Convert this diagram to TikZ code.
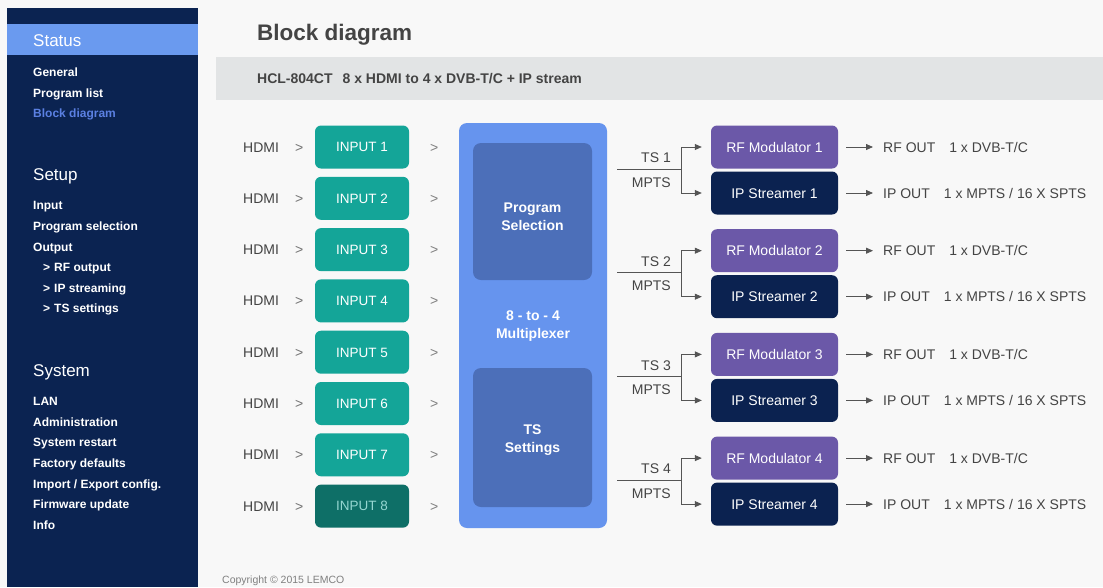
\documentclass[tikz,border=0pt]{standalone}
\usepackage{fontspec}
\setmainfont{Liberation Sans}
\usetikzlibrary{arrows.meta}

\definecolor{pagebg}{HTML}{F8F8F8}
\definecolor{navy}{HTML}{0B2351}
\definecolor{statusblue}{HTML}{6A9AEF}
\definecolor{linkblue}{HTML}{5B80E2}
\definecolor{bandgray}{HTML}{E2E4E5}
\definecolor{textgray}{HTML}{444444}
\definecolor{teal}{HTML}{14A598}
\definecolor{tealdark}{HTML}{0E6F67}
\definecolor{muxblue}{HTML}{6694EE}
\definecolor{innerblue}{HTML}{4C6FB9}
\definecolor{rfpurple}{HTML}{6B58A8}
\definecolor{ipnavy}{HTML}{0B2250}
\definecolor{wiregray}{HTML}{555555}

\tikzset{
  heading/.style={anchor=west, inner sep=0pt, text=white, text height=.72em, text depth=0pt,
    node font=\fontsize{17}{19}\selectfont},
  menu/.style={anchor=west, inner sep=0pt, text=white, text height=.72em, text depth=0pt,
    node font=\bfseries\fontsize{12}{14}\selectfont},
  plain/.style={anchor=west, inner sep=0pt, text=textgray, text height=.72em, text depth=0pt,
    node font=\fontsize{14}{16}\selectfont},
  inbox/.style={fill=teal, rounded corners=6pt, minimum width=94pt, minimum height=43pt,
    text=white, text height=.72em, text depth=0pt, node font=\fontsize{13.5}{15}\selectfont},
  inboxoff/.style={inbox, fill=tealdark, text=teal!45!white},
  outbox/.style={rounded corners=6pt, minimum width=127pt, minimum height=43pt,
    text=white, text height=.72em, text depth=0pt, node font=\fontsize{14}{16}\selectfont},
  muxpart/.style={fill=innerblue, rounded corners=8pt, minimum width=119pt},
  muxtext/.style={align=center, text=white, node font=\bfseries\fontsize{14}{18}\selectfont},
  wire/.style={draw=wiregray, line width=0.8pt},
  arrow/.style={wire, -{Triangle[length=7pt,width=6pt]}},
}

\begin{document}
\begin{tikzpicture}[x=1pt,y=-1pt]
    % page and side bar
    \fill[pagebg] (0,0) rectangle (1103,587);
    \fill[navy] (7,8) rectangle (198,587);
    \fill[statusblue] (7,24) rectangle (198,55);

    \node[heading] (status) at (33,40) {Status};
    \node[heading] (setup) at (33,174) {Setup};
    \node[heading] (system) at (33,370) {System};

    \foreach \y/\t in {72/General, 93/Program list, 205/Input, 226/Program selection,
        247/Output, 401/LAN, 422/Administration, 442/System restart,
        463/Factory defaults, 484/{Import / Export config.}, 504/Firmware update, 525/Info}
        \node[menu] (menu\y) at (33,\y) {\t};
    \node[menu, text=linkblue] (menu113) at (33,113) {Block diagram};
    \foreach \y/\t in {267/RF output, 288/IP streaming, 308/TS settings}
        \node[menu] (menu\y) at (43,\y) {>\hspace{4pt}\t};

    % title and product band
    \node[plain, node font=\bfseries\fontsize{22.5}{26}\selectfont] (title) at (257,32) {Block diagram};
    \fill[bandgray] (216,57) rectangle (1103,100);
    \node[plain, node font=\bfseries\fontsize{14}{16}\selectfont] (product) at (257,78)
        {HCL-804CT\hspace{10pt}8 x HDMI to 4 x DVB-T/C + IP stream};

    % inputs
    \foreach \i/\s in {1/inbox,2/inbox,3/inbox,4/inbox,5/inbox,6/inbox,7/inbox,8/inboxoff} {
        \pgfmathsetmacro{\y}{147+51.3*(\i-1)}
        \node[plain] (hdmi\i) at (243,\y) {HDMI};
        \node[plain, text=gray!90!black] (gt\i) at (295,\y) {>};
        \node[\s] (in\i) at (362,\y) {INPUT \i};
        \node[plain, text=gray] (to\i) at (430,\y) {>};
    }

    % multiplexer
    \node[fill=muxblue, rounded corners=8pt, minimum width=148pt, minimum height=405pt] (mux) at (533,325.5) {};
    \node[muxpart, minimum height=137pt] (progsel) at (532.5,211.5) {};
    \node[muxpart, minimum height=139pt] (tsset) at (532.5,437.5) {};
    \node[muxtext] (progsellabel) at (532.5,216.5) {Program\\Selection};
    \node[muxtext] (tssetlabel) at (532.5,440.5) {TS\\Settings};
    \node[muxtext] (muxlabel) at (533,326) {8 - to - 4\\Multiplexer};

    % outputs
    \foreach \k in {1,...,4} {
        \pgfmathsetmacro{\r}{147+103.7*(\k-1)}
        \pgfmathsetmacro{\p}{\r+46}
        \pgfmathsetmacro{\m}{\r+22}
        \node[outbox, fill=rfpurple] (rf\k) at (774.5,\r) {RF Modulator \k};
        \node[outbox, fill=ipnavy] (ip\k) at (774.5,\p) {IP Streamer \k};
        \coordinate (ts\k) at (617,\m);
        \coordinate (br\k) at (681,\m);
        \draw[wire] (ts\k) -- (br\k);
        \draw[arrow, shorten >=9pt] (br\k) |- (rf\k);
        \draw[arrow, shorten >=9pt] (br\k) |- (ip\k);
        \node[plain, anchor=south east] (tslab\k) at (671,\m-6) {TS \k};
        \node[plain, anchor=north east] (mpts\k) at (671,\m+8) {MPTS};
        \node[plain] (rfout\k) at (883,\r) {RF OUT\hspace{14pt}1 x DVB-T/C};
        \node[plain] (ipout\k) at (883,\p) {IP OUT\hspace{14pt}1 x MPTS / 16 X SPTS};
        \draw[arrow, shorten <=8pt, shorten >=10pt] (rf\k) -- (rfout\k);
        \draw[arrow, shorten <=8pt, shorten >=10pt] (ip\k) -- (ipout\k);
    }

    \node[plain, text=gray, node font=\fontsize{10.5}{12}\selectfont] (copyright) at (222,580) {Copyright © 2015 LEMCO};
\end{tikzpicture}
\end{document}
